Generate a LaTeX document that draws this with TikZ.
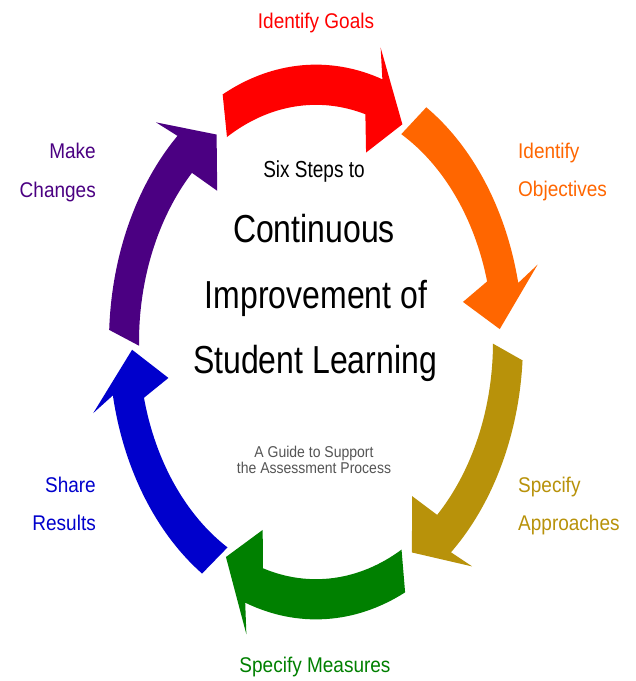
\documentclass[tikz,border=0pt]{standalone}
\usepackage{fontspec}
\setmainfont{Liberation Sans}
\definecolor{cRed}{HTML}{FF0000}
\definecolor{cOrange}{HTML}{FF6600}
\definecolor{cGold}{HTML}{B8920A}
\definecolor{cGreen}{HTML}{008000}
\definecolor{cBlue}{HTML}{0000CC}
\definecolor{cPurple}{HTML}{4B0082}
\definecolor{cGray}{HTML}{555555}
\begin{document}
\begin{tikzpicture}[x=1pt,y=-1pt,
  lab/.style={font=\fontsize{19}{23}\selectfont, yscale=1.12, inner sep=0pt},
  big/.style={font=\fontsize{32}{38}\selectfont, yscale=1.22, inner sep=0pt},
  small/.style={font=\fontsize{19}{23}\selectfont, yscale=1.22, inner sep=0pt},
  guide/.style={font=\fontsize{14}{16}\selectfont, yscale=1.12, inner sep=0pt, text=cGray}]
\useasboundingbox (0,0) rectangle (636,681);
\fill[white] (0,0) rectangle (636,681);
\begin{scope}[shift={(316,342)}, yscale=-1.34]
\foreach \T/\c in {116.8/cRed, 57.8/cOrange, -3.8/cGold, -64.5/cGreen, -123.4/cBlue, 177.5/cPurple} {
  \fill[\c] (\T:207) arc[start angle=\T, end angle=\T-45.5, radius=207]
    -- ({\T-43.2}:229) -- ({\T-54.8}:184) -- ({\T-46.3}:150) -- ({\T-43}:177)
    arc[start angle=\T-43, end angle=\T+3.4, radius=177] -- cycle;
}
\end{scope}
% step labels
\node[lab, text=cRed, anchor=base] (goals) at (316,28) {Identify Goals};
\node[lab, text=cOrange, anchor=base west] (objA) at (518,158) {Identify};
\node[lab, text=cOrange, anchor=base west] (objB) at (518,196) {Objectives};
\node[lab, text=cGold, anchor=base west] (appA) at (518,492) {Specify};
\node[lab, text=cGold, anchor=base west] (appB) at (518,530) {Approaches};
\node[lab, text=cGreen, anchor=base] (meas) at (315,672) {Specify Measures};
\node[lab, text=cBlue, anchor=base east] (shareA) at (96,492) {Share};
\node[lab, text=cBlue, anchor=base east] (shareB) at (96,530) {Results};
\node[lab, text=cPurple, anchor=base east] (makeA) at (96,158) {Make};
\node[lab, text=cPurple, anchor=base east] (makeB) at (96,197) {Changes};
% centre title
\node[small, anchor=base] (six) at (314,177) {Six Steps to};
\node[big, anchor=base] (t1) at (314,242) {Continuous};
\node[big, anchor=base] (t2) at (316,308) {Improvement of};
\node[big, anchor=base] (t3) at (315,373) {Student Learning};
\node[guide, anchor=base] (g1) at (314,457) {A Guide to Support};
\node[guide, anchor=base] (g2) at (314,473) {the Assessment Process};
\end{tikzpicture}
\end{document}
